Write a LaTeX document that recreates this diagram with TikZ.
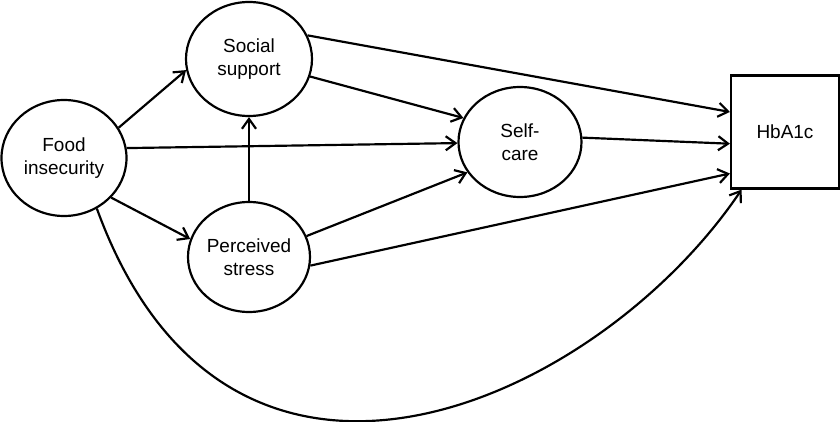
\documentclass[tikz,border=0pt]{standalone}
\usepackage{fontspec}
\setmainfont{Liberation Sans}
\usetikzlibrary{arrows.meta,shapes.geometric}

\begin{document}
\begin{tikzpicture}[x=1cm,y=1cm,>={Straight Barb[length=7pt,width=10pt]},line width=1.55pt,
  var/.style={draw,ellipse,inner sep=0pt,align=center,font=\fontsize{13.5}{16.3}\selectfont},
  obs/.style={draw,rectangle,inner sep=0pt,minimum width=2.7cm,minimum height=2.825cm,font=\fontsize{13.5}{16.3}\selectfont}]
  \useasboundingbox (0,0) rectangle (21,10.525);
  \node[var,minimum width=3.125cm,minimum height=2.9cm] (food) at (1.6,6.575) {Food\\insecurity};
  \node[var,minimum width=3.15cm,minimum height=2.85cm] (ss) at (6.225,9.05) {Social\\support};
  \node[var,minimum width=3.05cm,minimum height=2.75cm] (ps) at (6.225,4.1) {Perceived\\stress};
  \node[var,minimum width=3.075cm,minimum height=2.75cm] (sc) at (13.0,6.975) {Self-\\care};
  \node[obs] (hba) at (19.625,7.225) {HbA1c};
  \draw[->] (food.29) -- (ss.190);
  \draw[->] (food.9) -- (sc.181);
  \draw[->] (food.-40) -- (ps.163);
  \draw[->] (ps) -- (ss);
  \draw[->] (ss.-16) -- (sc.157);
  \draw[->] (ps.20) -- (sc.210);
  \draw[->] (ss.22) -- (hba.160);
  \draw[->] (sc.4) -- (hba.192);
  \draw[->] (ps.-8) -- (hba.217);
  % direct path
  \draw[->] (food.-57) .. controls +(-70:9.7) and +(-124:6.4) .. (hba.-127);
\end{tikzpicture}
\end{document}
